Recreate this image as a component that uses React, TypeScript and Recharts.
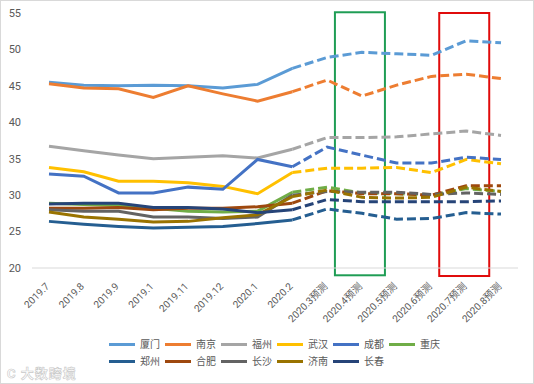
import { LineChart, Line, XAxis, YAxis, Legend, ReferenceArea } from "recharts"

const categories = [
  "2019.7", "2019.8", "2019.9", "2019.1", "2019.11", "2019.12", "2020.1", "2020.2",
  "2020.3预测", "2020.4预测", "2020.5预测", "2020.6预测", "2020.7预测", "2020.8预测"
]

// last actual month; forecast (dashed) starts from here
const lastActual = 7

const xiamen = [45.5, 45.1, 45.0, 45.1, 45.0, 44.7, 45.2, 47.4, 48.9, 49.6, 49.4, 49.2, 51.2, 50.9]
const nanjing = [45.3, 44.7, 44.6, 43.4, 45.0, 43.9, 42.9, 44.2, 45.8, 43.6, 45.1, 46.3, 46.6, 46.0]
const fuzhou = [36.7, 36.1, 35.5, 35.0, 35.2, 35.4, 35.1, 36.3, 37.9, 37.9, 38.0, 38.4, 38.8, 38.2]
const wuhan = [33.8, 33.2, 31.9, 31.9, 31.7, 31.2, 30.2, 33.1, 33.7, 33.7, 33.8, 33.1, 34.9, 34.3]
const chengdu = [32.9, 32.6, 30.3, 30.3, 31.1, 30.8, 34.9, 33.9, 36.6, 35.5, 34.4, 34.4, 35.2, 34.9]
const chongqing = [28.9, 28.7, 28.6, 28.2, 27.8, 27.7, 27.8, 30.4, 31.1, 30.3, 30.2, 30.0, 30.9, 30.5]
const zhengzhou = [26.4, 26.0, 25.7, 25.5, 25.6, 25.7, 26.1, 26.6, 28.1, 27.5, 26.7, 26.8, 27.6, 27.4]
const hefei = [28.2, 28.2, 28.3, 28.0, 28.2, 28.2, 28.4, 28.9, 30.6, 30.2, 30.2, 30.0, 31.3, 31.3]
const changsha = [28.0, 27.8, 27.8, 27.0, 27.0, 26.8, 27.0, 30.0, 30.5, 30.4, 30.4, 30.1, 30.3, 30.1]
const jinan = [27.7, 27.0, 26.7, 26.3, 26.4, 26.9, 27.3, 29.8, 30.7, 29.7, 29.6, 29.7, 31.1, 30.5]
const changchun = [28.8, 28.9, 28.9, 28.3, 28.3, 28.1, 27.6, 28.0, 29.4, 29.1, 29.1, 29.1, 29.1, 29.2]

const yTicks = [20, 25, 30, 35, 40, 45, 50, 55]

const series = [
  { key: "xiamen", name: "厦门", color: "#5B9BD5", values: xiamen },
  { key: "nanjing", name: "南京", color: "#ED7D31", values: nanjing },
  { key: "fuzhou", name: "福州", color: "#A5A5A5", values: fuzhou },
  { key: "wuhan", name: "武汉", color: "#FFC000", values: wuhan },
  { key: "chengdu", name: "成都", color: "#4472C4", values: chengdu },
  { key: "chongqing", name: "重庆", color: "#70AD47", values: chongqing },
  { key: "zhengzhou", name: "郑州", color: "#255E91", values: zhengzhou },
  { key: "hefei", name: "合肥", color: "#9E480E", values: hefei },
  { key: "changsha", name: "长沙", color: "#636363", values: changsha },
  { key: "jinan", name: "济南", color: "#997300", values: jinan },
  { key: "changchun", name: "长春", color: "#264478", values: changchun }
]

const data = categories.map((name, i) => {
  const row: Record<string, string | number | null> = { name }
  series.forEach((s) => {
    row[s.key + "_a"] = i <= lastActual ? s.values[i] : null
    row[s.key + "_f"] = i >= lastActual ? s.values[i] : null
  })
  return row
})

function LegendBox() {
  return (
    <div style={{ height: 38, paddingTop: 2, boxSizing: "border-box" }}>
      <div style={{ marginLeft: 108, width: 340, display: "flex", flexWrap: "wrap" }}>
        {series.map((s) => (
          <div
            key={s.key}
            style={{ width: 56, height: 17, display: "flex", alignItems: "center" }}
          >
            <span style={{ width: 26, height: 3, background: s.color, marginRight: 5 }} />
            <span style={{ fontSize: 10, color: "#595959", lineHeight: "17px" }}>{s.name}</span>
          </div>
        ))}
      </div>
    </div>
  )
}

function boxShape(color: string) {
  return (p: any) => (
    <rect
      x={p.x - 27}
      y={p.y}
      width={50}
      height={p.height}
      fill="none"
      stroke={color}
      strokeWidth={2}
    />
  )
}

export default function App() {
  return (
    <div
      style={{
        position: "relative",
        width: 534,
        height: 384,
        border: "1px solid #d9d9d9",
        boxSizing: "border-box",
        background: "#fff",
        fontFamily: 'Roboto, "Noto Sans CJK SC", sans-serif'
      }}
    >
      <style>{"body{margin:0}"}</style>
      <LineChart
        width={532}
        height={382}
        data={data}
        margin={{ top: 12, right: 15, bottom: 11, left: 0 }}
      >
        <XAxis
          dataKey="name"
          padding={{ left: 17, right: 17 }}
          interval={0}
          height={66}
          tickLine={false}
          tickMargin={8}
          axisLine={{ stroke: "#D9D9D9" }}
          angle={-45}
          textAnchor="end"
          tick={{ fontSize: 10, fill: "#595959", dx: -4 }}
        />
        <YAxis
          domain={[20, 55]}
          ticks={yTicks}
          width={31}
          axisLine={false}
          tickLine={false}
          tickMargin={5}
          tick={{ fontSize: 11, fill: "#595959" }}
        />
        <Legend verticalAlign="bottom" content={<LegendBox />} />
        {series.map((s) => (
          <Line
            key={s.key + "_a"}
            dataKey={s.key + "_a"}
            name={s.name}
            type="linear"
            stroke={s.color}
            strokeWidth={3}
            dot={false}
            activeDot={false}
            isAnimationActive={false}
          />
        ))}
        {series.map((s) => (
          <Line
            key={s.key + "_f"}
            dataKey={s.key + "_f"}
            name={s.name}
            type="linear"
            stroke={s.color}
            strokeWidth={3}
            strokeDasharray="9 4"
            dot={false}
            activeDot={false}
            legendType="none"
            isAnimationActive={false}
          />
        ))}
        <ReferenceArea
          x1="2020.4预测"
          x2="2020.4预测"
          y1={19}
          y2={55.1}
          ifOverflow="visible"
          shape={boxShape("#1F9D55")}
        />
        <ReferenceArea
          x1="2020.7预测"
          x2="2020.7预测"
          y1={18.9}
          y2={55}
          ifOverflow="visible"
          shape={boxShape("#E00B0B")}
        />
      </LineChart>
      <div
        style={{
          position: "absolute",
          left: 6,
          top: 362,
          fontSize: 13,
          fontWeight: 700,
          color: "#fff",
          WebkitTextStroke: "0.6px #c8c8c8",
          letterSpacing: 1
        }}
      >
        C 大数跨境
      </div>
    </div>
  )
}
